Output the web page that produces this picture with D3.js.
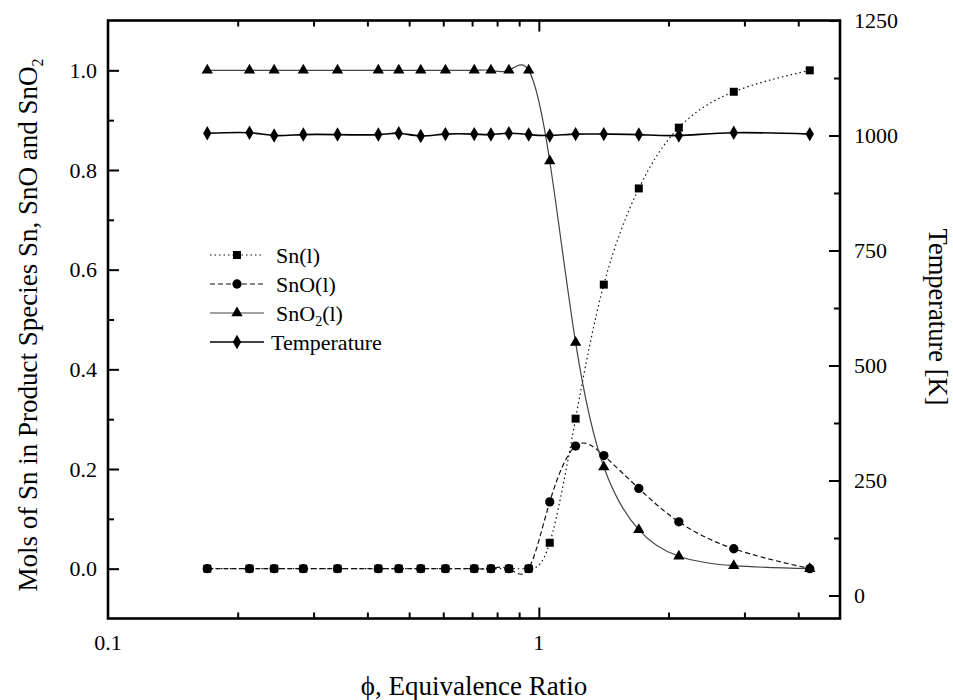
<!DOCTYPE html>
<html><head><meta charset="utf-8">
<script src="https://cdn.jsdelivr.net/npm/d3@7"></script>
<style>body{margin:0;background:#fff}svg{display:block}</style>
</head><body><svg id="c" width="953" height="700"></svg>
<script>
const phi  = [0.17, 0.213, 0.243, 0.284, 0.341, 0.424, 0.473, 0.532, 0.607, 0.708, 0.774, 0.852, 0.947, 1.06, 1.217, 1.415, 1.706, 2.113, 2.834, 4.254];
const sn   = [0,0,0,0,0,0,0,0,0,0,0,0,0, 0.052, 0.301, 0.570, 0.763, 0.885, 0.957, 1.0];
const sno  = [0,0,0,0,0,0,0,0,0,0,0,0,0, 0.134, 0.246, 0.227, 0.161, 0.094, 0.040, 0.0];
const sno2 = [1,1,1,1,1,1,1,1,1,1,1,1,1, 0.818, 0.454, 0.204, 0.078, 0.025, 0.006, 0.0];
const temp = [1005, 1006, 1000, 1002, 1002, 1002, 1005, 999, 1003, 1003, 1002, 1005, 1002, 1000, 1003, 1003, 1002, 1000, 1006, 1003];
const xMajor = [0.1, 1];
const xMinor = [0.2,0.3,0.4,0.5,0.6,0.7,0.8,0.9,2,3,4];
const yMajor = [0.0,0.2,0.4,0.6,0.8,1.0];
const yMinor = [-0.1,0.1,0.3,0.5,0.7,0.9];
const tMajor = [0,250,500,750,1000,1250];
const tMinor = [125,375,625,875,1125];

const FONT = "'Liberation Serif', 'Times New Roman', Times, 'DejaVu Serif', serif";
const svg = d3.select("#c");
const L=108, R=840, T=20.5, B=618.5;
const x = d3.scaleLog().domain([0.1,5]).range([L,R]);
const y = d3.scaleLinear().domain([-0.1,1.1]).range([B,T]);
const yt = d3.scaleLinear().domain([-50,1250]).range([B,T]);

const g = svg.append("g").attr("font-family",FONT);
function ticks(axisGen, tr, vals, len){
  g.append("g").attr("transform",tr).call(axisGen.tickValues(vals).tickSize(len).tickFormat(""))
   .call(s=>{s.select(".domain").remove(); s.selectAll("line").attr("stroke","#000").attr("stroke-width",2);});
}
ticks(d3.axisTop(x), `translate(0,${B})`, xMajor.filter(v=>v>0.1), 11);
ticks(d3.axisTop(x), `translate(0,${B})`, xMinor, 6);
ticks(d3.axisBottom(x), `translate(0,${T})`, xMajor.filter(v=>v>0.1), 11);
ticks(d3.axisBottom(x), `translate(0,${T})`, xMinor, 6);
ticks(d3.axisRight(y), `translate(${L},0)`, yMajor, 11);
ticks(d3.axisRight(y), `translate(${L},0)`, yMinor.filter(v=>v>-0.1), 6);
ticks(d3.axisLeft(yt), `translate(${R},0)`, tMajor, 11);
ticks(d3.axisLeft(yt), `translate(${R},0)`, tMinor, 6);

const txt = (sel)=>sel.append("text").attr("font-family",FONT).attr("fill","#000");
const fsT = 22;
xMajor.forEach(v=>txt(g).attr("x",x(v)).attr("y",650).attr("text-anchor","middle").attr("font-size",fsT).text(v===1?"1":"0.1"));
yMajor.forEach(v=>txt(g).attr("x",97).attr("y",y(v)+7.5).attr("text-anchor","end").attr("font-size",fsT).text(v.toFixed(1)));
tMajor.forEach(v=>txt(g).attr("x",854).attr("y",yt(v)+7.5).attr("font-size",fsT).text(v));

g.append("rect").attr("x",L).attr("y",T).attr("width",R-L).attr("height",B-T).attr("fill","none").attr("stroke","#000").attr("stroke-width",2.6);

txt(g).attr("x",474).attr("y",695).attr("text-anchor","middle").attr("font-size",27).text("\u03D5, Equivalence Ratio");
const yl = txt(g).attr("transform","translate(37,325) rotate(-90)").attr("text-anchor","middle").attr("font-size",27);
yl.append("tspan").text("Mols of Sn in Product Species Sn, SnO and SnO");
yl.append("tspan").attr("font-size",16).attr("dy",6).text("2");
txt(g).attr("transform","translate(929,317) rotate(90)").attr("text-anchor","middle").attr("font-size",26.5).text("Temperature [K]");

const series = [
  {vals:sn, sc:y, dash:"1.5,3", col:"#111", w:1.2, shape:d3.symbolSquare, size:64},
  {vals:sno, sc:y, dash:"5,3", col:"#111", w:1.2, shape:d3.symbolCircle, size:68},
  {vals:sno2, sc:y, dash:null, col:"#444", w:1.2, shape:d3.symbolTriangle, size:55},
  {vals:temp, sc:yt, dash:null, col:"#000", w:1.6, shape:d3.symbolDiamond, size:60}
];
series.forEach(s=>{
  const line = d3.line().x((d,i)=>x(phi[i])).y(d=>s.sc(d)).curve(d3.curveNatural);
  g.append("path").attr("d",line(s.vals)).attr("fill","none").attr("stroke",s.col).attr("stroke-width",s.w)
   .attr("stroke-dasharray",s.dash);
});
series.forEach(s=>{
  g.append("g").selectAll("path").data(s.vals).join("path")
   .attr("transform",(d,i)=>`translate(${x(phi[i])},${s.sc(d)})`)
   .attr("d",d3.symbol().type(s.shape).size(s.size)).attr("fill","#000");
});

const leg = [
  {s:series[0], y:255, tx:276, label:["Sn(l)"]},
  {s:series[1], y:284, tx:276, label:["SnO(l)"]},
  {s:series[2], y:313, tx:276, label:["SnO","2","(l)"]},
  {s:series[3], y:342, tx:271, label:["Temperature"]}
];
leg.forEach(l=>{
  g.append("line").attr("x1",210).attr("x2",264).attr("y1",l.y).attr("y2",l.y).attr("stroke",l.s.col).attr("stroke-width",l.s.w).attr("stroke-dasharray",l.s.dash);
  g.append("path").attr("transform",`translate(237,${l.y})`).attr("d",d3.symbol().type(l.s.shape).size(l.s.size)).attr("fill","#000");
  const t = txt(g).attr("x",l.tx).attr("y",l.y+7.5).attr("font-size",22);
  if(l.label.length===1) t.text(l.label[0]);
  else { t.append("tspan").text(l.label[0]); t.append("tspan").attr("font-size",14).attr("dy",5).text(l.label[1]); t.append("tspan").attr("dy",-5).text(l.label[2]); }
});
</script></body></html>
